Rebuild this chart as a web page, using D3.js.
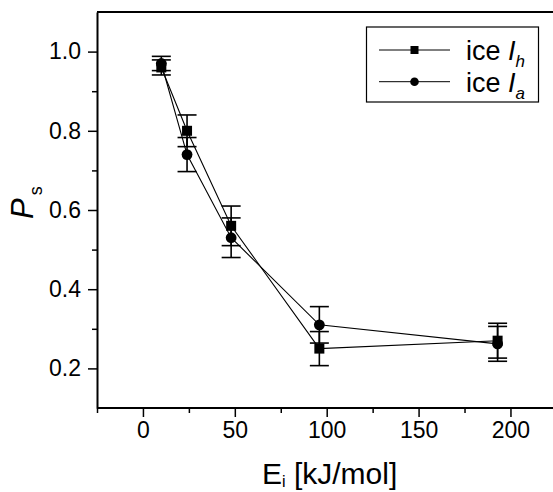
<!DOCTYPE html>
<html>
<head>
<meta charset="utf-8">
<script src="https://cdn.jsdelivr.net/npm/d3@7"></script>
<style>
  html, body { margin: 0; background: #fff; overflow: hidden; }
  svg { display: block; overflow: hidden; font-family: "Liberation Sans", Arial, sans-serif; }
  .axis path, .axis line { stroke: #000; }
</style>
</head>
<body>
<div id="plot"></div>
<script>
// incident energy (kJ/mol)
var energies = [10, 24, 48, 96, 193];
// sticking probability, ice Ih (squares)
var ihValues = [0.96, 0.80, 0.56, 0.25, 0.27];
var ihErrors = [0.019, 0.04, 0.05, 0.043, 0.044];
// sticking probability, ice Ia (circles)
var iaValues = [0.97, 0.74, 0.53, 0.31, 0.262];
var iaErrors = [0.018, 0.043, 0.05, 0.046, 0.044];

var xMajor = [0, 50, 100, 150, 200];
var xMinor = [-25, 25, 75, 125, 175];
var yMajor = [0.2, 0.4, 0.6, 0.8, 1.0];
var yMinor = [0.3, 0.5, 0.7, 0.9];

var seriesNames = ["h", "a"];

window.addEventListener('load', main);

function main(){
  var W = 553, H = 492;
  var left = 97, top = 12, bottom = 408, right = 556.4;

  var x = d3.scaleLinear().domain([-25, 225]).range([left, right]);
  var y = d3.scaleLinear().domain([0.1, 1.1]).range([bottom, top]);

  var svg = d3.select('#plot').append('svg')
    .attr('width', W).attr('height', H);

  // frame top (right side falls outside the window)
  svg.append('line')
    .attr('x1', left).attr('x2', W).attr('y1', top).attr('y2', top)
    .attr('stroke', '#000').attr('stroke-width', 2);

  // x axis
  var gx = svg.append('g').attr('class', 'axis')
    .attr('transform', 'translate(0,' + bottom + ')');
  gx.append('line').attr('x1', left).attr('x2', W).attr('stroke-width', 2);
  gx.append('g').call(d3.axisBottom(x).tickValues(xMinor).tickSize(5).tickFormat(''))
    .call(g => g.select('.domain').remove());
  gx.append('g').call(d3.axisBottom(x).tickValues(xMajor).tickSize(9).tickPadding(5))
    .call(g => g.select('.domain').remove());
  gx.selectAll('.tick line').attr('stroke-width', 1.5);
  gx.selectAll('text').attr('font-size', 23).attr('fill', '#000')
    .attr('font-family', '"Liberation Sans", Arial, sans-serif');

  // y axis
  var gy = svg.append('g').attr('class', 'axis')
    .attr('transform', 'translate(' + left + ',0)');
  gy.call(d3.axisLeft(y).tickValues(yMinor).tickSize(5).tickSizeOuter(0).tickFormat(''));
  gy.append('g').call(d3.axisLeft(y).tickValues(yMajor).tickSize(9).tickSizeOuter(0).tickPadding(7)
      .tickFormat(d3.format('.1f')))
    .call(g => g.select('.domain').remove());
  gy.selectAll('.domain').attr('stroke-width', 2);
  gy.selectAll('line').attr('stroke-width', 1.5);
  gy.selectAll('text').attr('font-size', 23).attr('fill', '#000')
    .attr('font-family', '"Liberation Sans", Arial, sans-serif');

  // axis titles
  var xt = svg.append('text')
    .attr('x', 262).attr('y', 484)
    .attr('font-size', 30);
  xt.append('tspan').text('E');
  xt.append('tspan').attr('font-size', 16).attr('dy', 3).text('i');
  xt.append('tspan').attr('dy', -3).text(' [kJ/mol]');

  var yt = svg.append('text')
    .attr('transform', 'translate(33,219) rotate(-90)')
    .attr('font-size', 31);
  yt.append('tspan').attr('font-style', 'italic').text('P');
  yt.append('tspan').attr('font-size', 18).attr('dy', 9).attr('dx', 3).text('s');

  var series = [
    { vals: ihValues, errs: ihErrors, shape: 'square' },
    { vals: iaValues, errs: iaErrors, shape: 'circle' }
  ];

  var line = d3.line().x((d, i) => x(energies[i])).y(d => y(d));

  series.forEach(function(s){
    svg.append('path')
      .attr('d', line(s.vals))
      .attr('fill', 'none').attr('stroke', '#000').attr('stroke-width', 1.1);
  });

  series.forEach(function(s){
    var g = svg.append('g').attr('stroke', '#000').attr('stroke-width', 1.6);
    s.vals.forEach(function(v, i){
      var cx = x(energies[i]);
      var hi = y(v + s.errs[i]), lo = y(v - s.errs[i]);
      g.append('line').attr('x1', cx).attr('x2', cx).attr('y1', hi).attr('y2', lo);
      g.append('line').attr('x1', cx - 9.5).attr('x2', cx + 9.5).attr('y1', hi).attr('y2', hi);
      g.append('line').attr('x1', cx - 9.5).attr('x2', cx + 9.5).attr('y1', lo).attr('y2', lo);
    });
  });

  series.forEach(function(s){
    s.vals.forEach(function(v, i){
      var cx = x(energies[i]), cy = y(v);
      if (s.shape === 'square') {
        svg.append('rect').attr('x', cx - 5).attr('y', cy - 5)
          .attr('width', 10).attr('height', 10).attr('fill', '#000');
      } else {
        svg.append('circle').attr('cx', cx).attr('cy', cy).attr('r', 5.4).attr('fill', '#000');
      }
    });
  });

  // legend
  var lg = svg.append('g');
  lg.append('rect').attr('x', 366.5).attr('y', 27).attr('width', 172).attr('height', 75)
    .attr('fill', '#fff').attr('stroke', '#000').attr('stroke-width', 1.2);
  series.forEach(function(s, i){
    var ly = 50 + i * 31.7;
    lg.append('line').attr('x1', 379).attr('x2', 450).attr('y1', ly).attr('y2', ly)
      .attr('stroke', '#000').attr('stroke-width', 1);
    if (s.shape === 'square') {
      lg.append('rect').attr('x', 410.5).attr('y', ly - 4).attr('width', 8).attr('height', 8).attr('fill', '#000');
    } else {
      lg.append('circle').attr('cx', 414.5).attr('cy', ly).attr('r', 4.3).attr('fill', '#000');
    }
    var t = lg.append('text').attr('x', 466).attr('y', ly + 10).attr('font-size', 27);
    t.append('tspan').text('ice ');
    t.append('tspan').attr('font-style', 'italic').text('I');
    t.append('tspan').attr('font-style', 'italic').attr('font-size', 17).attr('dy', 7).text(seriesNames[i]);
  });
}
</script>
</body>
</html>
